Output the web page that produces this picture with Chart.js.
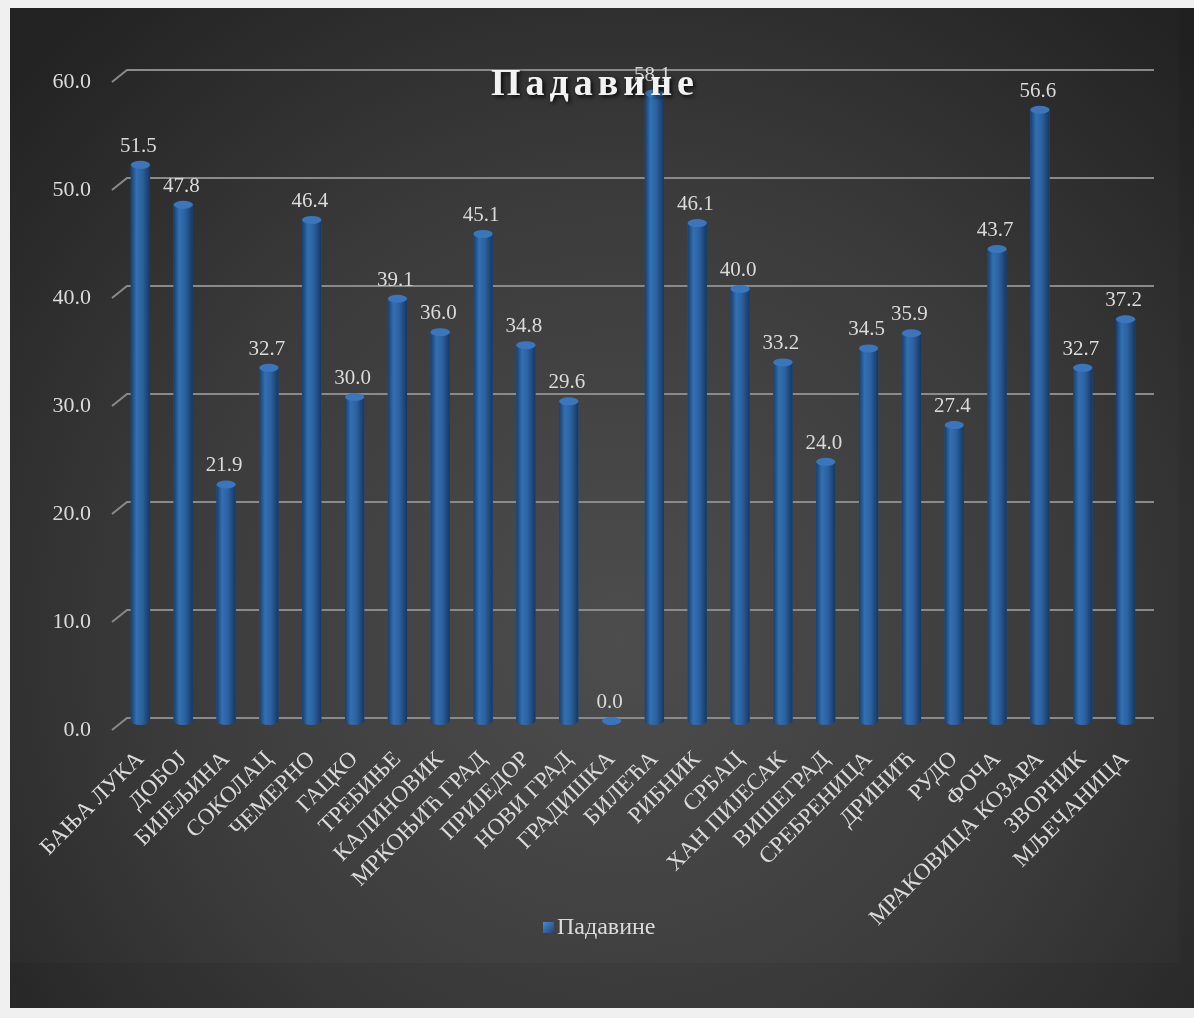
<!DOCTYPE html>
<html>
<head>
<meta charset="utf-8">
<script src="https://cdn.jsdelivr.net/npm/chart.js@4.4.1/dist/chart.umd.min.js"></script>
<style>
html, body { margin: 0; padding: 0; background: #f0f0f0; }
#wrap { position: absolute; left: 0; top: 0; width: 1194px; height: 1018px; }
</style>
</head>
<body>
<div id="wrap"><canvas id="myChart"></canvas></div>
<script>
var stanice = ['БАЊА ЛУКА', 'ДОБОЈ', 'БИЈЕЉИНА', 'СОКОЛАЦ', 'ЧЕМЕРНО', 'ГАЦКО', 'ТРЕБИЊЕ',
	'КАЛИНОВИК', 'МРКОЊИЋ ГРАД', 'ПРИЈЕДОР', 'НОВИ ГРАД', 'ГРАДИШКА', 'БИЛЕЋА', 'РИБНИК',
	'СРБАЦ', 'ХАН ПИЈЕСАК', 'ВИШЕГРАД', 'СРЕБРЕНИЦА', 'ДРИНИЋ', 'РУДО', 'ФОЧА',
	'МРАКОВИЦА КОЗАРА', 'ЗВОРНИК', 'МЉЕЧАНИЦА'];
var padavine = [51.5, 47.8, 21.9, 32.7, 46.4, 30.0, 39.1, 36.0, 45.1, 34.8, 29.6, 0.0,
	58.1, 46.1, 40.0, 33.2, 24.0, 34.5, 35.9, 27.4, 43.7, 56.6, 32.7, 37.2];
var yTicks = [0, 10, 20, 30, 40, 50, 60];
var naslov = 'Падавине';
var serija = 'Падавине';

var serif = '"Liberation Serif", "DejaVu Serif", serif';
var textColor = '#dadada';

// background + 3d style grid lines
var pozadina = {
	id: 'pozadina',
	beforeDraw: function(chart) {
		var ctx = chart.ctx;
		ctx.save();
		ctx.fillStyle = '#f0f0f0';
		ctx.fillRect(0, 0, chart.width, chart.height);
		var g = ctx.createRadialGradient(620, 640, 0, 620, 640, 820);
		g.addColorStop(0, '#4d4d4d');
		g.addColorStop(0.55, '#3b3b3b');
		g.addColorStop(1, '#232323');
		ctx.fillStyle = g;
		ctx.fillRect(10, 8, 1184, 1000);
		ctx.fillStyle = 'rgba(0,0,0,0.06)';
		ctx.fillRect(10, 963, 1184, 45);
		ctx.fillRect(1179, 8, 15, 955);
		ctx.restore();
	},
	beforeDatasetsDraw: function(chart) {
		var ctx = chart.ctx, y = chart.scales.y, a = chart.chartArea;
		ctx.save();
		ctx.strokeStyle = '#8a8a8a';
		ctx.lineWidth = 2;
		yTicks.forEach(function(v) {
			var py = y.getPixelForValue(v);
			ctx.beginPath();
			ctx.moveTo(a.left - 7, py + 9);
			ctx.lineTo(a.left + 8, py - 3);
			ctx.lineTo(a.right + 7, py - 3);
			ctx.stroke();
		});
		ctx.restore();
	}
};

// cylinder bars, value labels, title, legend
var stubovi = {
	id: 'stubovi',
	afterDatasetsDraw: function(chart) {
		var ctx = chart.ctx;
		var meta = chart.getDatasetMeta(0);
		ctx.save();
		meta.data.forEach(function(el, i) {
			var p = el.getProps(['x', 'y', 'base', 'width'], true);
			var w = p.width, x = p.x, top = p.y, base = p.base;
			var g = ctx.createLinearGradient(x - w / 2, 0, x + w / 2, 0);
			g.addColorStop(0, '#1a3e69');
			g.addColorStop(0.3, '#3270b2');
			g.addColorStop(0.6, '#2c61a0');
			g.addColorStop(1, '#163760');
			ctx.fillStyle = g;
			ctx.fillRect(x - w / 2, top, w, base - top);
			ctx.beginPath();
			ctx.ellipse(x, base, w / 2, 4, 0, 0, Math.PI);
			ctx.fill();
			ctx.beginPath();
			ctx.ellipse(x, top, w / 2, 4, 0, 0, Math.PI * 2);
			ctx.fillStyle = '#3b76bd';
			ctx.fill();

			ctx.fillStyle = textColor;
			ctx.font = '21px ' + serif;
			ctx.textAlign = 'center';
			ctx.textBaseline = 'bottom';
			ctx.fillText(padavine[i].toFixed(1), x - 2, top - 8);
		});
		ctx.restore();
	},
	afterDraw: function(chart) {
		var ctx = chart.ctx;
		ctx.save();
		// legend
		var lg = ctx.createLinearGradient(543, 922, 554, 933);
		lg.addColorStop(0, '#4f8ad0');
		lg.addColorStop(1, '#1d4478');
		ctx.fillStyle = lg;
		ctx.fillRect(543, 922, 11, 11);
		ctx.fillStyle = textColor;
		ctx.font = '24px ' + serif;
		ctx.textAlign = 'left';
		ctx.textBaseline = 'middle';
		ctx.fillText(serija, 557, 928);
		// title
		ctx.font = 'bold 38px ' + serif;
		ctx.letterSpacing = '5px';
		ctx.textAlign = 'center';
		ctx.shadowColor = 'rgba(0,0,0,0.85)';
		ctx.shadowBlur = 4;
		ctx.shadowOffsetX = 2;
		ctx.shadowOffsetY = 2;
		ctx.fillStyle = '#f2f2f2';
		ctx.fillText(naslov, 595, 85);
		ctx.restore();
	}
};

var ctx = document.getElementById('myChart').getContext('2d');
var myChart = new Chart(ctx, {
	type: 'bar',
	data: {
		labels: stanice,
		datasets: [{
			label: serija,
			data: padavine,
			backgroundColor: '#2c5f9e',
			borderWidth: 0,
			categoryPercentage: 1,
			barPercentage: 0.45
		}]
	},
	options: {
		responsive: true,
		maintainAspectRatio: false,
		animation: false,
		devicePixelRatio: 1,
		layout: { padding: { left: 10, right: 47, top: 73, bottom: 57 } },
		plugins: {
			title: { display: false },
			tooltip: { enabled: false },
			legend: { display: false }
		},
		scales: {
			x: {
				grid: { display: false },
				border: { display: false },
				ticks: {
					color: textColor,
					font: { family: serif, size: 23 },
					maxRotation: 45,
					minRotation: 45,
					autoSkip: false,
					padding: 17
				},
				afterFit: function(scale) { scale.height = 240; }
			},
			y: {
				min: 0,
				max: 60,
				grid: { display: false },
				border: { display: false },
				ticks: {
					stepSize: 10,
					color: textColor,
					font: { family: serif, size: 22 },
					padding: 20,
					labelOffset: 9,
					callback: function(v) { return v.toFixed(1); }
				},
				afterFit: function(scale) { scale.width = 109; }
			}
		}
	},
	plugins: [pozadina, stubovi]
});
</script>
</body>
</html>
